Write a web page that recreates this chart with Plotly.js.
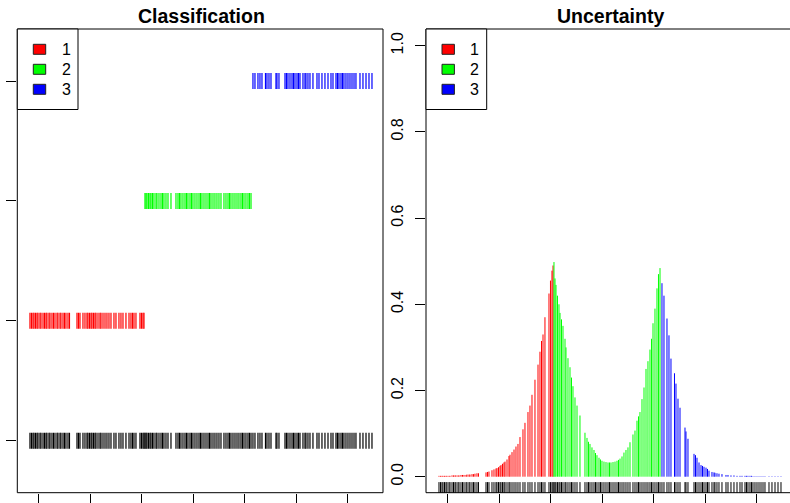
<!DOCTYPE html>
<html><head><meta charset="utf-8">
<script src="https://cdn.plot.ly/plotly-3.0.1.min.js"></script>
<style>html,body{margin:0;padding:0;background:#fff}#plot{width:790px;height:503px}</style>
</head><body><div id="plot"></div>
<script>
// ---- data (x in axis units, uncertainty 0..1) ----
const xClass1 = [-0.175,-0.146,-0.117,-0.097,-0.068,-0.039,-0.019,0.019,0.039,0.078,0.107,0.136,0.155,0.194,0.214,0.252,0.282,0.311,0.350,0.369,0.408,0.427,0.466,0.495,0.524,0.563,0.592,
 0.738,0.767,0.796,0.854,0.893,0.932,0.951,0.981,1.010,1.029,1.058,1.087,1.107,1.146,1.184,1.204,1.243,1.282,1.320,1.359,1.398,1.456,1.495,1.553,1.592,1.631,1.689,1.748,1.786,1.816,1.845,1.883,1.961,1.990,2.019,2.039];
const uncClass1 = [0.002,0.002,0.002,0.002,0.002,0.002,0.002,0.002,0.002,0.003,0.003,0.003,0.003,0.003,0.003,0.004,0.004,0.004,0.004,0.005,0.005,0.005,0.006,0.006,0.007,0.008,0.008,
 0.010,0.011,0.012,0.015,0.017,0.019,0.020,0.022,0.025,0.027,0.030,0.033,0.035,0.040,0.048,0.051,0.057,0.063,0.070,0.076,0.092,0.110,0.125,0.150,0.165,0.190,0.225,0.260,0.290,0.315,0.330,0.370,0.425,0.455,0.478,0.490];
const xClass2 = [2.058,2.078,2.097,2.126,2.155,2.175,2.204,2.233,2.272,2.291,2.330,2.369,2.398,2.427,2.466,2.505,2.563,2.660,2.699,2.728,2.757,2.796,2.835,2.864,2.893,2.932,2.961,2.990,3.029,3.068,3.107,3.136,3.165,3.204,3.243,3.282,3.311,3.340,3.379,3.417,3.456,3.495,3.534,3.592,3.631,3.670,3.699,3.728,3.767,3.806,3.845,3.883,3.922,3.951,3.981,4.019,4.058,4.087,4.117];
const uncClass2 = [0.498,0.46,0.445,0.42,0.40,0.38,0.365,0.35,0.32,0.30,0.275,0.254,0.23,0.21,0.184,0.165,0.142,0.102,0.09,0.081,0.076,0.068,0.062,0.055,0.05,0.044,0.04,0.037,0.035,0.034,0.033,0.033,0.033,0.034,0.035,0.037,0.039,0.042,0.047,0.056,0.062,0.068,0.08,0.098,0.107,0.13,0.14,0.15,0.18,0.207,0.25,0.268,0.295,0.32,0.356,0.39,0.437,0.47,0.484];
const xClass3 = [4.155,4.194,4.252,4.291,4.330,4.398,4.427,4.466,4.505,4.602,4.621,4.660,4.777,4.806,4.835,4.874,4.913,4.942,4.971,5.010,5.039,5.068,5.126,5.165,5.184,5.223,5.262,5.320,5.398,5.437,5.495,5.553,5.612,5.670,5.709,5.767,5.796,5.825,5.864,5.893,5.922,5.961,6.000,6.039,6.078,6.117,6.155,6.233,6.291,6.350,6.408,6.466];
const uncClass3 = [0.449,0.42,0.367,0.328,0.274,0.24,0.216,0.181,0.16,0.114,0.105,0.088,0.053,0.05,0.044,0.033,0.027,0.025,0.023,0.021,0.018,0.014,0.011,0.01,0.009,0.008,0.007,0.006,0.004,0.004,0.003,0.003,
 0.002,0.002,0.002,0.002,0.002,0.002,0.002,0.002,0.001,0.001,0.001,0.001,0.001,0.001,0.001,0.001,0.001,0.001,0.001,0.001];

const classLabels = ['1','2','3'];
const classColors = ['#FF0000','#00FF00','#0000FF'];
const xTickVals = [0,1,2,3,4,5,6];
const yTickValsLeft = [0,1,2,3];
const yTickValsRight = [0,0.2,0.4,0.6,0.8,1.0];
const yTickTextRight = ['0.0','0.2','0.4','0.6','0.8','1.0'];
const panelTitles = ['Classification','Uncertainty'];

// ---- helpers ----
const W = 790, H = 503;
const PX = p => p / W;
const PY = p => 1 - p / H;
function segs(xs, y0, y1) {
  const X = [], Y = [];
  xs.forEach((x, i) => {
    X.push(x, x, null);
    Y.push(typeof y0 === 'function' ? y0(i) : y0, typeof y1 === 'function' ? y1(i) : y1, null);
  });
  return {x: X, y: Y};
}

const xsAll = [xClass1, xClass2, xClass3];
const uncs = [uncClass1, uncClass2, uncClass3];
const allX = xClass1.concat(xClass2, xClass3);
const hh = 0.0667;

const traces = [];
let s = segs(allX, -hh, hh);
traces.push({type:'scatter', mode:'lines', x:s.x, y:s.y, xaxis:'x', yaxis:'y',
  line:{color:'#000', width:1.2}, hoverinfo:'skip', showlegend:false});
xsAll.forEach((arr, k) => {
  const lv = k + 1;
  const t = segs(arr, lv - hh, lv + hh);
  traces.push({type:'scatter', mode:'lines', x:t.x, y:t.y, xaxis:'x', yaxis:'y',
    line:{color:classColors[k], width:1.2}, hoverinfo:'skip', showlegend:false});
});
xsAll.forEach((arr, k) => {
  const t = segs(arr, 0, i => uncs[k][i]);
  traces.push({type:'scatter', mode:'lines', x:t.x, y:t.y, xaxis:'x2', yaxis:'y2',
    line:{color:classColors[k], width:1}, hoverinfo:'skip', showlegend:false});
});
s = segs(allX, -0.0125, -0.05);
traces.push({type:'scatter', mode:'lines', x:s.x, y:s.y, xaxis:'x2', yaxis:'y2',
  line:{color:'#000', width:1}, hoverinfo:'skip', showlegend:false});

const baseFont = {family:'Liberation Sans, Arial, sans-serif', color:'#000'};
const axCommon = {showgrid:false, zeroline:false, showline:false, ticks:'outside', ticklen:10,
  tickwidth:1, tickcolor:'#000', fixedrange:true};

const topY = 29, botY = 492.7;
const layout = {
  width: W, height: H, margin:{l:0,r:0,t:0,b:0},
  paper_bgcolor:'#fff', plot_bgcolor:'#fff', showlegend:false,
  font: Object.assign({size:16}, baseFont),
  xaxis: Object.assign({}, axCommon, {domain:[PX(17.3), PX(383)], range:[-0.421, 6.680],
    tickvals:xTickVals, showticklabels:false, anchor:'y'}),
  yaxis: Object.assign({}, axCommon, {domain:[PY(botY), PY(topY)], range:[-0.434, 3.434],
    tickvals:yTickValsLeft, showticklabels:false, anchor:'x'}),
  xaxis2: Object.assign({}, axCommon, {domain:[PX(426), 1], range:[-0.427, 6.641],
    tickvals:xTickVals, showticklabels:false, anchor:'y2'}),
  yaxis2: Object.assign({}, axCommon, {domain:[PY(botY), PY(topY)], range:[-0.0371, 1.0387],
    tickvals:yTickValsRight, ticktext:yTickTextRight, tickangle:-90, ticklabelstandoff:6,
    tickfont:Object.assign({size:16}, baseFont), anchor:'x2'}),
  shapes: [], annotations: []
};

layout.shapes.push({type:'rect', xref:'paper', yref:'paper', x0:PX(17.3), x1:PX(383), y0:PY(botY), y1:PY(topY),
  line:{color:'#000', width:1}, fillcolor:'rgba(0,0,0,0)', layer:'above'});
layout.shapes.push({type:'rect', xref:'paper', yref:'paper', x0:PX(426), x1:PX(796), y0:PY(botY), y1:PY(topY),
  line:{color:'#000', width:1}, fillcolor:'rgba(0,0,0,0)', layer:'above'});

[17.3, 426].forEach(lx => {
  layout.shapes.push({type:'rect', xref:'paper', yref:'paper', x0:PX(lx), x1:PX(lx + 60.7), y0:PY(109.5), y1:PY(topY),
    line:{color:'#000', width:1}, fillcolor:'#fff', layer:'above'});
  classLabels.forEach((lab, k) => {
    const cy = 49.3 + 20 * k;
    layout.shapes.push({type:'rect', xref:'paper', yref:'paper', x0:PX(lx + 16), x1:PX(lx + 28.4),
      y0:PY(cy + 5), y1:PY(cy - 5), line:{color:'#222', width:1}, fillcolor:classColors[k], layer:'above'});
    layout.annotations.push({xref:'paper', yref:'paper', x:PX(lx + 48.7), y:PY(cy), text:lab, showarrow:false,
      xanchor:'center', yanchor:'middle', font:Object.assign({size:16}, baseFont)});
  });
});

layout.annotations.push({xref:'paper', yref:'paper', x:PX(201), y:PY(15.5), text:'<b>' + panelTitles[0] + '</b>',
  showarrow:false, xanchor:'center', yanchor:'middle', font:Object.assign({size:19.5}, baseFont)});
layout.annotations.push({xref:'paper', yref:'paper', x:PX(610), y:PY(15.5), text:'<b>' + panelTitles[1] + '</b>',
  showarrow:false, xanchor:'center', yanchor:'middle', font:Object.assign({size:19.5}, baseFont)});

Plotly.newPlot('plot', traces, layout, {displayModeBar:false, staticPlot:true});
</script></body></html>
